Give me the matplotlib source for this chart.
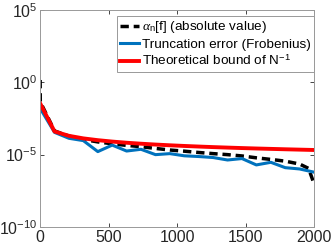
import numpy as np
import matplotlib
matplotlib.use('Agg')
import matplotlib.pyplot as plt

plt.rcParams['font.family'] = ['Liberation Sans', 'DejaVu Sans']
plt.rcParams['mathtext.fontset'] = 'custom'
plt.rcParams['mathtext.rm'] = 'Liberation Sans'
plt.rcParams['mathtext.it'] = 'Liberation Serif:italic'

# sample sizes N (20 points between 1 and 2000)
N = [1, 106, 211, 316, 422, 527, 632, 737, 843, 948, 1053,
     1158, 1264, 1369, 1474, 1579, 1685, 1790, 1895, 2000]

# alpha_n[f], sampled more densely at both ends
N_alpha = [1, 2, 106, 211, 316, 422, 527, 632, 737, 843, 948, 1053,
           1158, 1264, 1369, 1474, 1579, 1685, 1790, 1895, 1960, 2000]
log_alpha = [0.16, -1.35, -3.36, -3.72, -3.95, -4.12, -4.25, -4.36, -4.45,
             -4.57, -4.68, -4.76, -4.85, -4.93, -5.00, -5.09, -5.22, -5.33,
             -5.45, -5.65, -5.95, -7.0]

# truncation error (Frobenius), log10
log_trunc = [-1.80, -3.46, -3.87, -4.03, -4.79, -4.34, -4.75, -4.63, -5.00,
             -4.93, -5.08, -5.13, -5.20, -5.37, -5.27, -5.71, -5.53, -5.90,
             -5.99, -6.21]

# theoretical bound ~ 1/N
bound = [3.5e-2, 4.0e-4, 2.0e-4, 1.33e-4, 1.0e-4, 8.0e-5, 6.65e-5, 5.7e-5,
         4.98e-5, 4.43e-5, 3.99e-5, 3.63e-5, 3.32e-5, 3.07e-5, 2.85e-5,
         2.66e-5, 2.5e-5, 2.35e-5, 2.22e-5, 2.1e-5]

alpha = 10 ** np.array(log_alpha)
trunc = 10 ** np.array(log_trunc)

fig = plt.figure(figsize=(3.32, 2.49), dpi=100)
ax = fig.add_axes([0.1205, 0.0884, 0.8253, 0.8716])

ax.semilogy(N_alpha, alpha, color='black', lw=2.5, dashes=(2.4, 1.4),
            label=r'$\alpha_{\mathrm{n}}$[f] (absolute value)')
ax.semilogy(N, trunc, color='#0072BD', lw=2.2,
            label='Truncation error (Frobenius)')
ax.semilogy(N, bound, color='#FF0000', lw=2.8,
            label=r'Theoretical bound of N$^{\mathrm{-1}}$')

ax.set_xlim(0, 2000)
ax.set_ylim(1e-10, 1e5)
ax.set_xticks([0, 500, 1000, 1500, 2000])
ax.set_yticks([1e-10, 1e-5, 1e0, 1e5])
ax.set_yticklabels([r'$\mathrm{10^{-10}}$', r'$\mathrm{10^{-5}}$',
                    r'$\mathrm{10^{0}}$', r'$\mathrm{10^{5}}$'])
ax.minorticks_off()
ax.tick_params(direction='in', top=True, right=True, length=3,
               labelsize=11.5, colors='#262626', width=0.6, pad=2)
for s in ax.spines.values():
    s.set_color('#999999')
    s.set_linewidth(0.7)

leg = ax.legend(loc='upper right', bbox_to_anchor=(1.0, 0.972),
                fontsize=9.7, handlelength=1.4, handletextpad=0.2,
                borderpad=0.25, labelspacing=0.22, borderaxespad=0,
                fancybox=False, framealpha=1)
leg.get_frame().set_edgecolor('#999999')
leg.get_frame().set_linewidth(0.7)

fig.savefig('out.png', dpi=100)
